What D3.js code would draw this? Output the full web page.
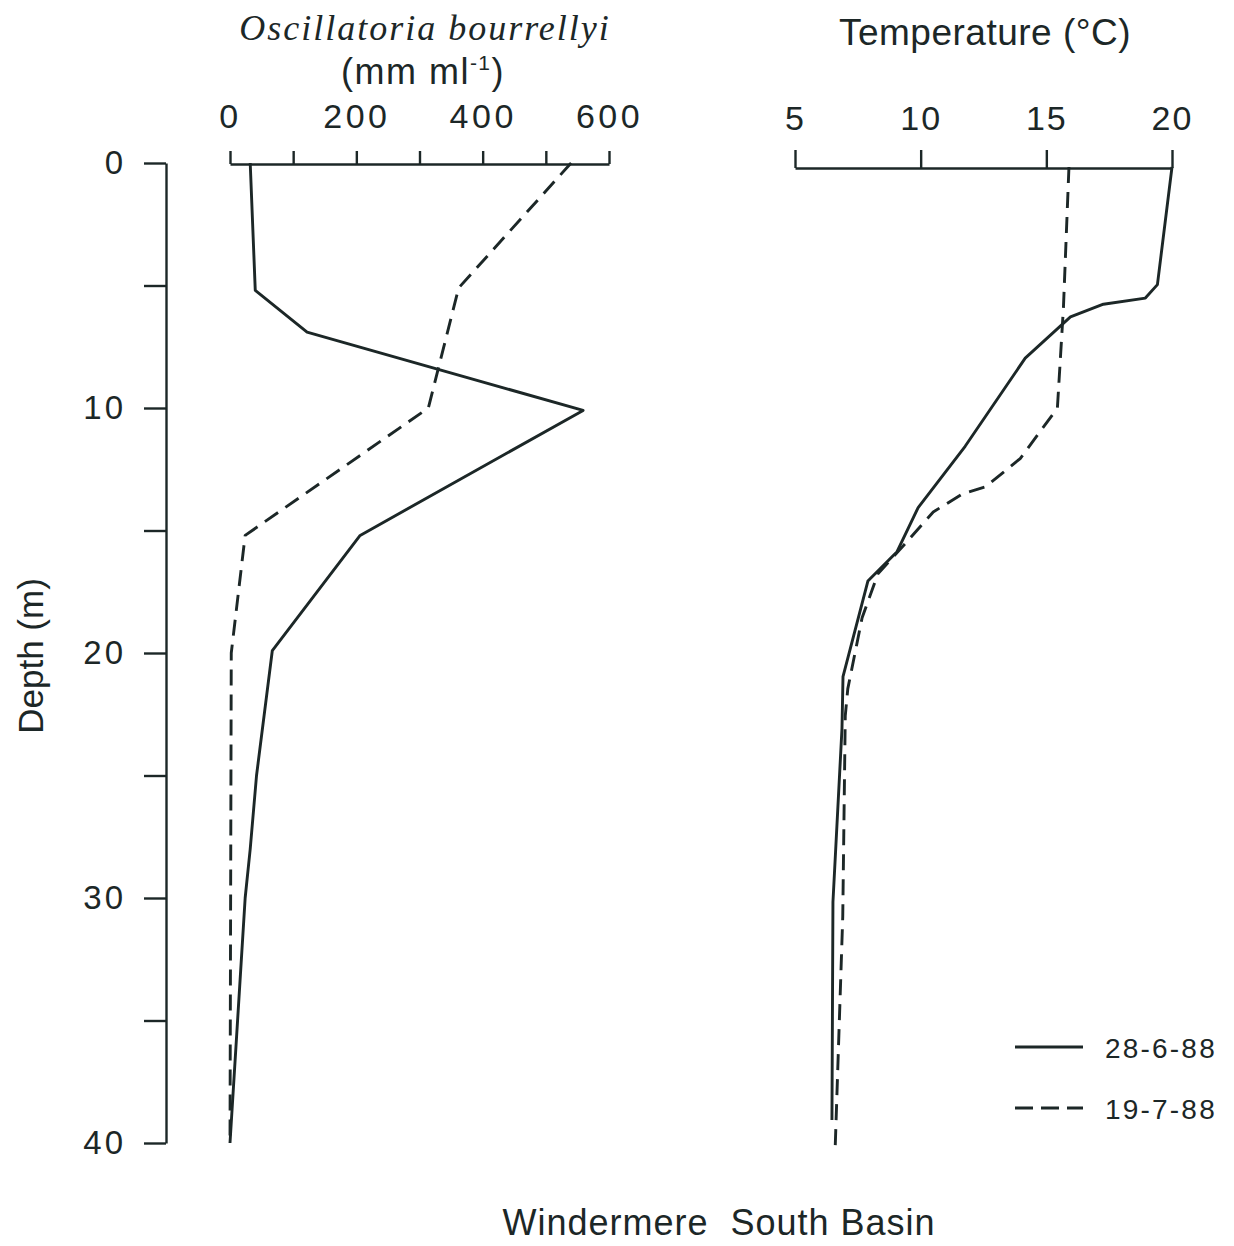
<!DOCTYPE html>
<html><head><meta charset="utf-8">
<script src="https://cdn.jsdelivr.net/npm/d3@7"></script>
<style>
body{margin:0;background:#fff;}
text{fill:#1c2727;font-family:"Liberation Sans",Arial,sans-serif;}
</style></head>
<body><svg id="c" width="1234" height="1246"></svg>
<script>
// ---- data ----
const depthTicks = [0,5,10,15,20,25,30,35,40];
const depthLabels = [0,10,20,30,40];
const oscTicks = [0,100,200,300,400,500,600];
const oscLabels = [0,200,400,600];
const tempTicks = [5,10,15,20];

const oscDepth_280688 = [0,5.2,6.9,10.1,15.2,19.9,25,28,30,40];
const oscValue_280688 = [32,40,122,559,206,67,42,32,24,0];
const oscDepth_190788 = [0,5.1,10,15.2,20,40];
const oscValue_190788 = [540,362,314,24,2,0];

const tempDepth_280688 = [0,4.8,5.35,5.6,6.12,7.8,11.4,13.9,15.7,16.9,20.8,22.9,30,38.9];
const tempValue_280688 = [20,19.42,18.94,17.27,15.96,14.16,11.77,9.9,9.06,7.9,6.91,6.87,6.51,6.47];
const tempDepth_190788 = [0,5.75,9.84,11.9,13.06,13.35,14.08,15.7,16.6,18.4,21.3,22.4,30.6,40];
const tempValue_190788 = [15.9,15.68,15.44,13.96,12.57,11.65,10.5,9.1,8.3,7.67,7.1,7.0,6.9,6.6];

const legendLabels = ["28-6-88","19-7-88"];

// ---- drawing ----
const ink = "#1c2727";
const svg = d3.select("#c");
const y = d3.scaleLinear().domain([0,40]).range([163,1143]);
const yT = d3.scaleLinear().domain([0,40]).range([167,1147]);
const xO = d3.scaleLinear().domain([0,600]).range([230,609]);
const xT = d3.scaleLinear().domain([5,20]).range([795,1172]);

function styleAxis(g, fs, ls){
  g.selectAll("path,line").attr("stroke",ink).attr("stroke-width",2.4);
  g.selectAll("text").attr("font-size",fs).attr("letter-spacing",ls).attr("fill",ink)
   .style("font-family","Liberation Sans, Arial, sans-serif");
}

// depth axis
const gy = svg.append("g").attr("transform","translate(166,0)")
  .call(d3.axisLeft(y).tickValues(depthTicks).tickSize(22).tickSizeOuter(0).tickPadding(18)
    .tickFormat(d => depthLabels.includes(d) ? d : ""));
styleAxis(gy, 33, 3);

// oscillatoria axis
const gx = svg.append("g").attr("transform","translate(0,164)")
  .call(d3.axisTop(xO).tickValues(oscTicks).tickSize(13).tickSizeOuter(0).tickPadding(23)
    .tickFormat(d => oscLabels.includes(d) ? d : ""));
styleAxis(gx, 34, 3.5);

// temperature axis
const gt = svg.append("g").attr("transform","translate(0,168)")
  .call(d3.axisTop(xT).tickValues(tempTicks).tickSize(18).tickSizeOuter(0).tickPadding(20));
styleAxis(gt, 34, 2);

const lineO = d3.line().x(d=>xO(d[1])).y(d=>y(d[0]));
const lineT = d3.line().x(d=>xT(d[1])).y(d=>yT(d[0]));
const dash = "16,9";

function draw(gen, ds, vs, dashed){
  svg.append("path").datum(ds.map((d,i)=>[d,vs[i]])).attr("d",gen)
    .attr("fill","none").attr("stroke",ink).attr("stroke-width",2.9)
    .attr("stroke-linejoin","round").attr("stroke-dasharray",dashed?dash:null);
}
draw(lineO, oscDepth_280688, oscValue_280688, false);
draw(lineO, oscDepth_190788, oscValue_190788, true);
draw(lineT, tempDepth_280688, tempValue_280688, false);
draw(lineT, tempDepth_190788, tempValue_190788, true);

// titles
svg.append("text").attr("x",425).attr("y",40).attr("text-anchor","middle")
  .attr("font-size",36).attr("font-style","italic").attr("letter-spacing",2)
  .style("font-family","Liberation Serif, serif").text("Oscillatoria bourrellyi");
const t2 = svg.append("text").attr("x",423).attr("y",84).attr("text-anchor","middle")
  .attr("font-size",36).attr("letter-spacing",1.5);
t2.append("tspan").text("(mm ml");
t2.append("tspan").attr("font-size",21).attr("dy",-14).text("-1");
t2.append("tspan").attr("dy",14).text(")");

svg.append("text").attr("x",985).attr("y",45).attr("text-anchor","middle")
  .attr("font-size",37).attr("letter-spacing",0.5).text("Temperature (°C)");

svg.append("text").attr("transform","translate(43,656) rotate(-90)").attr("text-anchor","middle")
  .attr("font-size",35).text("Depth (m)");

svg.append("text").attr("x",719).attr("y",1235).attr("text-anchor","middle")
  .attr("font-size",36).attr("letter-spacing",1).attr("xml:space","preserve").text("Windermere  South Basin");

// legend
const leg = svg.append("g");
legendLabels.forEach((lab,i)=>{
  const yy = 1047 + i*61;
  leg.append("line").attr("x1",1015).attr("x2",1083).attr("y1",yy).attr("y2",yy)
    .attr("stroke",ink).attr("stroke-width",3).attr("stroke-dasharray", i===1 ? "18,8" : null);
  leg.append("text").attr("x",1105).attr("y",yy+11).attr("font-size",28).attr("letter-spacing",2.2).text(lab);
});
</script></body></html>
